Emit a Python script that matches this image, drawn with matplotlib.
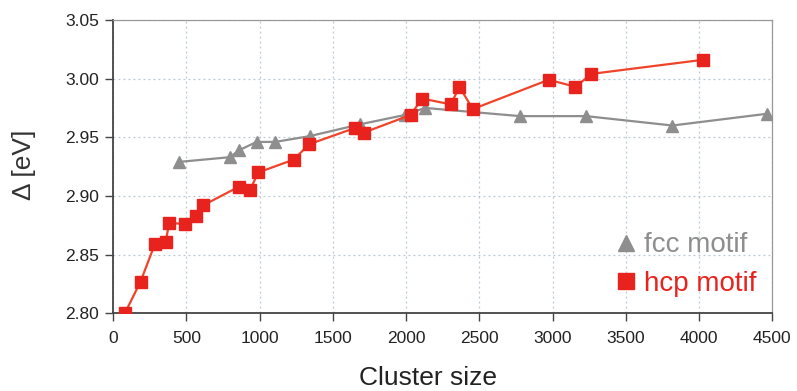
import matplotlib.pyplot as plt
from matplotlib.lines import Line2D

plt.rcParams['font.family'] = ['Liberation Sans', 'DejaVu Sans']

# hcp motif (red squares)
hcp_size = [80, 187, 285, 358, 383, 490, 563, 615, 861, 934, 991, 1234, 1337,
            1653, 1712, 2031, 2109, 2305, 2364, 2455, 2974, 3156, 3265, 4026]
hcp_delta = [2.800, 2.827, 2.859, 2.861, 2.877, 2.876, 2.883, 2.892, 2.908, 2.905,
             2.920, 2.931, 2.944, 2.958, 2.954, 2.969, 2.983, 2.978, 2.993, 2.974,
             2.999, 2.993, 3.004, 3.016]

# fcc motif (gray triangles)
fcc_size = [451, 797, 861, 979, 1105, 1344, 1685, 1992, 2129, 2778, 3229, 3818, 4463]
fcc_delta = [2.929, 2.933, 2.939, 2.946, 2.946, 2.951, 2.961, 2.969, 2.975,
             2.968, 2.968, 2.960, 2.970]

red = '#e8231e'
red_line = '#f0442a'
gray = '#8e8e8e'

fig = plt.figure(figsize=(7.97, 3.91), dpi=100)
ax = fig.add_axes([0.142, 0.199, 0.827, 0.750])

ax.plot(fcc_size, fcc_delta, color=gray, lw=1.6, marker='^', ms=9,
        mfc=gray, mec=gray, zorder=3)
ax.plot(hcp_size, hcp_delta, color=red_line, lw=1.6, marker='s', ms=8.5,
        mfc=red, mec=red, zorder=4)

ax.set_xlim(0, 4500)
ax.set_ylim(2.80, 3.05)
ax.set_xticks(range(0, 4501, 500))
ax.set_yticks([2.80, 2.85, 2.90, 2.95, 3.00, 3.05])
ax.set_yticklabels(['2.80', '2.85', '2.90', '2.95', '3.00', '3.05'])

ax.grid(True, color='#b8c8d4', ls=(0, (1.5, 2.5)), lw=0.9)
ax.set_axisbelow(True)

for s in ['left', 'bottom']:
    ax.spines[s].set_color('#444444')
    ax.spines[s].set_linewidth(1.3)
for s in ['top', 'right']:
    ax.spines[s].set_color('#999999')
    ax.spines[s].set_linewidth(0.9)

ax.tick_params(axis='both', direction='out', length=6, width=1, colors='#444444',
               labelsize=12.5, labelcolor='#222222')
ax.tick_params(axis='x', pad=7)
ax.tick_params(axis='y', pad=4)

ax.set_xlabel('Cluster size', fontsize=19, color='#222222')
ax.xaxis.set_label_coords(0.478, -0.18)
ax.set_ylabel('Δ [eV]', fontsize=19, color='#333333')
ax.yaxis.set_label_coords(-0.117, 0.507)

handles = [Line2D([], [], ls='none', marker='^', ms=12, color=gray),
           Line2D([], [], ls='none', marker='s', ms=11, color=red)]
leg = ax.legend(handles, ['fcc motif', 'hcp motif'], loc='lower right',
                bbox_to_anchor=(1.014, -0.03), frameon=False, fontsize=20,
                handlelength=0.8, handletextpad=0.25, labelspacing=0.45,
                labelcolor=[gray, red])

fig.savefig('out.png', dpi=100)
